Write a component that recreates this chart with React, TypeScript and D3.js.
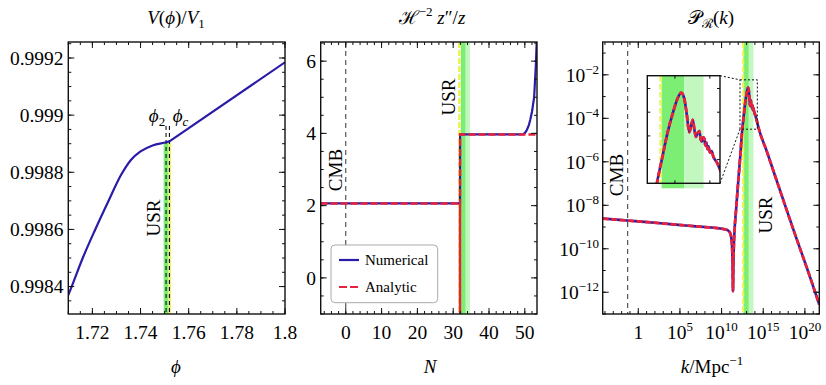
import * as d3 from "d3";

// panel 1: potential
const potPhi = [1.71, 1.7114, 1.716, 1.7212, 1.7265, 1.732, 1.736, 1.74, 1.745, 1.7506, 1.752];
const potV = [0.99837, 0.9984, 0.9985, 0.9986, 0.998696, 0.998792, 0.998843, 0.998873, 0.998894, 0.998905, 0.998908];
const potLinPhi = [1.752, 1.8];
const potLinV = [0.998908, 0.999185];
const phiMarks = [1.7506, 1.752];
const phiGreen = [1.7496, 1.7516];
const phiYellow = [1.7516, 1.7526];
const potXTicks = [1.72, 1.74, 1.76, 1.78, 1.8];
const potXLabels = ["1.72", "1.74", "1.76", "1.78", "1.8"];
const potYTicks = [0.9984, 0.9986, 0.9988, 0.999, 0.9992];
const potYLabels = ["0.9984", "0.9986", "0.9988", "0.999", "0.9992"];

// panel 2: H^-2 z''/z
const numN = [-7, 31.9, 31.92, 49, 49.6, 50.1, 50.6, 51.1, 51.5, 52, 52.6, 53.1, 53.6];
const numZ = [2.06, 2.06, 3.97, 3.97, 3.98, 4.02, 4.1, 4.22, 4.37, 4.6, 5.0, 5.93, 7.4];
const anaN = [-7, 31.9, 31.9, 31.92, 53.4];
const anaZ = [2.06, 2.06, -2, 3.97, 3.97];
const nYellow = 31.7;
const nGreen = [32.1, 33.5];
const nLight = [33.5, 34.7];
const nXTicks = [0, 10, 20, 30, 40, 50];
const nYTicks = [0, 2, 4, 6];

// panel 3: P_R(k), log10 values
const specLogK = [
  -4.27, -2, 0, 3, 6, 8, 9.5, 10.3, 10.8, 11.05, 11.2, 11.28, 11.33, 11.37, 11.41, 11.47, 11.55,
  11.73, 12.0, 12.25, 12.46, 12.64, 12.8, 12.94, 13.06, 13.18, 13.27, 13.34, 13.41, 13.46, 13.51,
  13.56, 13.6, 13.65, 13.7, 13.74, 13.77, 13.81, 13.84, 13.87, 13.9, 13.93, 13.96, 14.0, 14.05,
  14.1, 14.2, 14.32, 15.5, 16.6, 18.6, 20.6, 21.73,
];
const specLogP = [
  -8.61, -8.68, -8.74, -8.84, -8.94, -9.0, -9.05, -9.1, -9.16, -9.3, -9.6, -10.1, -10.9, -11.95,
  -10.9, -9.9, -9.2, -8.25, -6.9, -5.7, -4.6, -3.95, -3.4, -3.02, -2.74, -2.59, -2.72, -3.05, -3.42,
  -3.3, -3.16, -3.38, -3.52, -3.44, -3.4, -3.58, -3.62, -3.53, -3.56, -3.7, -3.64, -3.78, -3.72,
  -3.85, -3.82, -3.94, -4.06, -4.26, -5.6, -6.85, -9.1, -11.28, -12.57,
];
const kCmb = -1.27;
const kYellow = 12.59;
const kGreen = [12.62, 13.27];
const kLight = [13.27, 13.82];
const kZoomBox = [12.21, 14.29];
const pZoomBox = [-4.5, -2.23];
const kXTicks = [0, 5, 10, 15, 20];
const kXSup = ["", "5", "10", "15", "20"];
const pYTicks = [-12, -10, -8, -6, -4, -2];

const FONT = "'Liberation Serif', 'Times New Roman', serif";
const TOP = 42;
const BOT = 314;
const FS = 19.5;
const BLUE = "#2a1ca6";
const RED = "#e8213c";
const GREEN = "#7cee74";
const LIGHT = "#c2f8c0";
const YELLOW = "#eef25a";

const range = (a: number, b: number, s: number) => {
  const out: number[] = [];
  for (let v = a; v <= b + s * 1e-6; v += s) out.push(+v.toFixed(6));
  return out;
};

function Frame({ x, y, xMaj, xMin, yMaj, yMin, major = 6, minor = 3 }: any) {
  const [x0, x1] = x.range();
  const [y0, y1] = y.range(); // y0 bottom, y1 top
  const inX = (v: number) => v >= Math.min(...x.domain()) && v <= Math.max(...x.domain());
  const inY = (v: number) => v >= Math.min(...y.domain()) && v <= Math.max(...y.domain());
  const segs: string[] = [];
  const add = (vals: number[], len: number) => {
    vals.filter(inX).forEach((v) => {
      const px = x(v);
      segs.push(`M${px},${y0}V${y0 - len}M${px},${y1}V${y1 + len}`);
    });
  };
  const addY = (vals: number[], len: number) => {
    vals.filter(inY).forEach((v) => {
      const py = y(v);
      segs.push(`M${x0},${py}H${x0 + len}M${x1},${py}H${x1 - len}`);
    });
  };
  add(xMaj, major);
  add(xMin, minor);
  addY(yMaj, major);
  addY(yMin, minor);
  return (
    <g>
      <path d={segs.join("")} stroke="#111" strokeWidth={1} fill="none" />
      <rect x={x0} y={y1} width={x1 - x0} height={y0 - y1} fill="none" stroke="#111" strokeWidth={1.4} />
    </g>
  );
}

const Rot = ({ cx, cy, children }: any) => (
  <text transform={`translate(${cx},${cy}) rotate(-90)`} textAnchor="middle" dy="0.35em" fontSize={19}>
    {children}
  </text>
);

export default function App() {
  // panel 1
  const x1 = d3.scaleLinear().domain([1.71, 1.8]).range([68.3, 285]);
  const y1 = d3.scaleLinear().domain([0.998304, 0.999256]).range([BOT, TOP]);
  const potLine = d3
    .line<number>()
    .x((d) => x1(potPhi[d]))
    .y((d) => y1(potV[d]))
    .curve(d3.curveMonotoneX);
  const potLin = d3
    .line<number>()
    .x((d) => x1(potLinPhi[d]))
    .y((d) => y1(potLinV[d]));
  const plateauY = y1(potV[potV.length - 2]);

  // panel 2
  const x2 = d3.scaleLinear().domain([-7, 53.4]).range([320.7, 537]);
  const y2 = d3.scaleLinear().domain([-1, 6.53]).range([BOT, TOP]);
  const numLine = d3
    .line<number>()
    .x((d) => x2(numN[d]))
    .y((d) => y2(numZ[d]));
  const anaLine = d3
    .line<number>()
    .x((d) => x2(anaN[d]))
    .y((d) => y2(anaZ[d]));

  // panel 3
  const x3 = d3.scaleLinear().domain([-4.27, 21.73]).range([602.7, 819.3]);
  const y3 = d3.scaleLinear().domain([-13, -0.49]).range([BOT, TOP]);
  const xi = d3.scaleLinear().domain(kZoomBox).range([647.3, 720]);
  const yi = d3.scaleLinear().domain(pZoomBox).range([183.3, 75.7]);
  const specIdx = d3.range(specLogK.length);
  const specLine = (xs: any, ys: any) =>
    d3
      .line<number>()
      .x((d) => xs(specLogK[d]))
      .y((d) => ys(specLogP[d]))
      .curve(d3.curveMonotoneX)(specIdx) as string;

  const idx = (a: number[]) => d3.range(a.length);

  const band = (xs: any, a: number[], fill: string, yTop = TOP, yBot = BOT) => (
    <rect x={xs(a[0])} y={yTop} width={xs(a[1]) - xs(a[0])} height={yBot - yTop} fill={fill} />
  );

  return (
    <svg
      width={826}
      height={385}
      style={{ position: "absolute", left: 0, top: 0, background: "#fff" }}
      fontFamily={FONT}
    >
      <defs>
        <clipPath id="c1">
          <rect x={68.3} y={TOP} width={216.7} height={BOT - TOP} />
        </clipPath>
        <clipPath id="c2">
          <rect x={320.7} y={TOP} width={216.3} height={BOT - TOP} />
        </clipPath>
        <clipPath id="c3">
          <rect x={602.7} y={TOP} width={216.6} height={BOT - TOP} />
        </clipPath>
        <clipPath id="ci">
          <rect x={647.3} y={75.7} width={72.7} height={107.6} />
        </clipPath>
      </defs>
      <rect x={0} y={0} width={826} height={385} fill="#fff" />

      {/* ---------- panel 1 ---------- */}
      <g clipPath="url(#c1)">
        {band(x1, phiGreen, GREEN, plateauY)}
        {band(x1, phiYellow, YELLOW, plateauY)}
        {phiMarks.map((p, i) => (
          <line key={i} x1={x1(p)} x2={x1(p)} y1={126} y2={BOT} stroke="#111" strokeWidth={1.1} strokeDasharray="4,3" />
        ))}
        <path d={potLine(idx(potPhi)) as string} fill="none" stroke={BLUE} strokeWidth={2.2} />
        <path d={potLin(idx(potLinPhi)) as string} fill="none" stroke={BLUE} strokeWidth={2.2} />
      </g>
      <Frame
        x={x1}
        y={y1}
        xMaj={potXTicks}
        xMin={range(1.71, 1.8, 0.005)}
        yMaj={potYTicks}
        yMin={range(0.9983, 0.99925, 0.00005)}
      />
      {potXTicks.map((t, i) => (
        <text key={i} x={x1(t)} y={339} textAnchor="middle" fontSize={FS}>
          {potXLabels[i]}
        </text>
      ))}
      {potYTicks.map((t, i) => (
        <text key={i} x={63.5} y={y1(t)} dy="0.35em" textAnchor="end" fontSize={FS}>
          {potYLabels[i]}
        </text>
      ))}
      <text x={157} y={122} textAnchor="middle" fontSize={19}>
        <tspan fontStyle="italic">ϕ</tspan>
        <tspan fontSize={13} dy={4}>2</tspan>
      </text>
      <text x={180.5} y={122} textAnchor="middle" fontSize={19}>
        <tspan fontStyle="italic">ϕ</tspan>
        <tspan fontSize={13} dy={4} fontStyle="italic">c</tspan>
      </text>
      <Rot cx={153.3} cy={218}>USR</Rot>
      <text x={176} y={24} textAnchor="middle" fontSize={19}>
        <tspan fontStyle="italic">V</tspan>(<tspan fontStyle="italic">ϕ</tspan>)/<tspan fontStyle="italic">V</tspan>
        <tspan fontSize={13} dy={4}>1</tspan>
      </text>
      <text x={176} y={373} textAnchor="middle" fontSize={19} fontStyle="italic">
        ϕ
      </text>

      {/* ---------- panel 2 ---------- */}
      <g clipPath="url(#c2)">
        {band(x2, nGreen, GREEN)}
        {band(x2, nLight, LIGHT)}
        <line x1={x2(nYellow)} x2={x2(nYellow)} y1={TOP} y2={BOT} stroke={YELLOW} strokeWidth={2.5} strokeDasharray="6,2" />
        <line x1={x2(0)} x2={x2(0)} y1={TOP} y2={BOT} stroke="#333" strokeWidth={1} strokeDasharray="5,4" />
        <path d={numLine(idx(numN)) as string} fill="none" stroke={BLUE} strokeWidth={2.2} />
        <path d={anaLine(idx(anaN)) as string} fill="none" stroke={RED} strokeWidth={2.4} strokeDasharray="7,3" />
      </g>
      <Frame x={x2} y={y2} xMaj={nXTicks} xMin={range(-6, 52, 2)} yMaj={nYTicks} yMin={range(-1, 6.5, 0.5)} />
      {nXTicks.map((t) => (
        <text key={t} x={x2(t)} y={339} textAnchor="middle" fontSize={FS}>
          {t}
        </text>
      ))}
      {nYTicks.map((t) => (
        <text key={t} x={316} y={y2(t)} dy="0.35em" textAnchor="end" fontSize={FS}>
          {t}
        </text>
      ))}
      <Rot cx={335} cy={170}>CMB</Rot>
      <Rot cx={448.3} cy={97}>USR</Rot>
      <g>
        <rect x={331} y={245} width={106.7} height={57.7} rx={4} fill="#fff" stroke="#aaa" strokeWidth={1} />
        <line x1={339} x2={359} y1={260} y2={260} stroke={BLUE} strokeWidth={2.2} />
        <text x={365} y={265} fontSize={15}>
          Numerical
        </text>
        <line x1={339} x2={359} y1={287} y2={287} stroke={RED} strokeWidth={2.2} strokeDasharray="8,3" />
        <text x={365} y={292} fontSize={15}>
          Analytic
        </text>
      </g>
      <text x={432} y={24} textAnchor="middle" fontSize={19}>
        ℋ<tspan fontSize={13} dy={-8}>−2</tspan>
        <tspan dy={8} fontStyle="italic"> z</tspan>″/<tspan fontStyle="italic">z</tspan>
      </text>
      <text x={430} y={373} textAnchor="middle" fontSize={19} fontStyle="italic">
        N
      </text>

      {/* ---------- panel 3 ---------- */}
      <g clipPath="url(#c3)">
        {band(x3, kGreen, GREEN)}
        {band(x3, kLight, LIGHT)}
        <line x1={x3(kYellow)} x2={x3(kYellow)} y1={TOP} y2={BOT} stroke={YELLOW} strokeWidth={2.2} strokeDasharray="6,2" />
        <line x1={x3(kCmb)} x2={x3(kCmb)} y1={TOP} y2={BOT} stroke="#333" strokeWidth={1} strokeDasharray="5,4" />
        <path d={specLine(x3, y3)} fill="none" stroke={BLUE} strokeWidth={2.6} />
        <path d={specLine(x3, y3)} fill="none" stroke={RED} strokeWidth={2.8} strokeDasharray="6,2.5" />
        <rect
          x={x3(kZoomBox[0])}
          y={y3(pZoomBox[1])}
          width={x3(kZoomBox[1]) - x3(kZoomBox[0])}
          height={y3(pZoomBox[0]) - y3(pZoomBox[1])}
          fill="none"
          stroke="#111"
          strokeWidth={1}
          strokeDasharray="2,2"
        />
        <line x1={720} y1={75.7} x2={x3(kZoomBox[0])} y2={y3(pZoomBox[1])} stroke="#111" strokeDasharray="2,2" />
        <line x1={720} y1={183.3} x2={x3(kZoomBox[0])} y2={y3(pZoomBox[0])} stroke="#111" strokeDasharray="2,2" />
      </g>
      <Frame x={x3} y={y3} xMaj={kXTicks} xMin={range(-4, 21, 1)} yMaj={pYTicks} yMin={range(-13, -1, 1)} />
      {kXTicks.map((t, i) => (
        <text key={t} x={x3(t)} y={339} textAnchor="middle" fontSize={FS}>
          {i === 0 ? "1" : "10"}
          {kXSup[i] && (
            <tspan fontSize={13} dy={-8}>
              {kXSup[i]}
            </tspan>
          )}
        </text>
      ))}
      {pYTicks.map((t) => (
        <text key={t} x={599} y={y3(t)} dy="0.35em" textAnchor="end" fontSize={FS}>
          10
          <tspan fontSize={13} dy={-8}>
            {"−" + Math.abs(t)}
          </tspan>
        </text>
      ))}
      <Rot cx={616} cy={175}>CMB</Rot>
      <Rot cx={765} cy={215}>USR</Rot>

      {/* inset */}
      <rect x={647.3} y={75.7} width={72.7} height={107.6} fill="#fff" />
      {band(xi, kGreen, GREEN, 75.7, 188.3)}
      {band(xi, kLight, LIGHT, 75.7, 188.3)}
      <line x1={xi(kYellow)} x2={xi(kYellow)} y1={75.7} y2={183.3} stroke={YELLOW} strokeWidth={2.4} strokeDasharray="6,2" />
      <g clipPath="url(#ci)">
        <path d={specLine(xi, yi)} fill="none" stroke={BLUE} strokeWidth={2.6} />
        <path d={specLine(xi, yi)} fill="none" stroke={RED} strokeWidth={2.8} strokeDasharray="6,2.5" />
      </g>
      <Frame x={xi} y={yi} xMaj={[13, 14]} xMin={[]} yMaj={[-4, -3.5, -3, -2.5]} yMin={[]} major={3} />

      <text x={711} y={24} textAnchor="middle" fontSize={19}>
        𝒫<tspan fontSize={13} dy={4}>ℛ</tspan>
        <tspan dy={-4}>(</tspan>
        <tspan fontStyle="italic">k</tspan>)
      </text>
      <text x={712} y={373} textAnchor="middle" fontSize={19}>
        <tspan fontStyle="italic">k</tspan>/Mpc<tspan fontSize={13} dy={-8}>−1</tspan>
      </text>
    </svg>
  );
}
